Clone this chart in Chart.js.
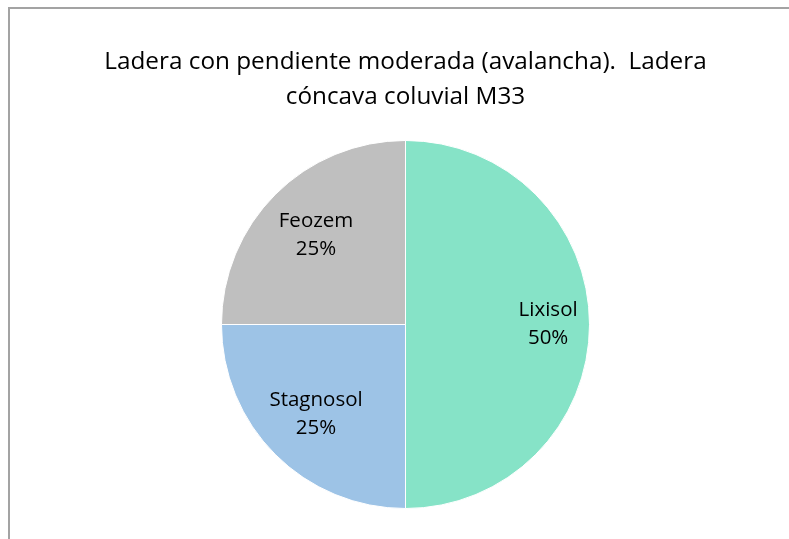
<!DOCTYPE html>
<html>
<head>
<meta charset="utf-8">
<script src="https://cdn.jsdelivr.net/npm/chart.js@4"></script>
<style>
    html, body { margin: 0; padding: 0; background: #fff; }
    #wrap { position: relative; width: 789px; height: 539px; }
    #frame {
        position: absolute; left: 8px; top: 7px; right: 0; bottom: 0;
        border-top: 2px solid #a3a3a3; border-left: 2px solid #a3a3a3;
        pointer-events: none;
    }
</style>
</head>
<body>
<div id="wrap">
    <canvas id="pieChart" width="789" height="539"></canvas>
    <div id="frame"></div>
</div>
<script>
// Chart data
const titleLines = ['Ladera con pendiente moderada (avalancha).  Ladera', 'cóncava coluvial M33'];
const soilNames = ['Lixisol', 'Stagnosol', 'Feozem'];
const soilShares = [50, 25, 25];
const sliceColors = ['#86E3C7', '#9DC3E6', '#BFBFBF'];

const FONT = '"Open Sans", Lato, sans-serif';

// Draw "name / pct%" inside each slice, bigger slices get labels further out
const sliceLabels = {
    id: 'sliceLabels',
    afterDatasetsDraw(chart) {
        const ctx = chart.ctx;
        const meta = chart.getDatasetMeta(0);
        const total = soilShares.reduce((a, b) => a + b, 0);
        ctx.save();
        ctx.font = '20.5px ' + FONT;
        ctx.fillStyle = '#000';
        ctx.textAlign = 'center';
        ctx.textBaseline = 'middle';
        meta.data.forEach((arc, i) => {
            const p = arc.getProps(['x', 'y', 'startAngle', 'endAngle', 'outerRadius'], true);
            const mid = (p.startAngle + p.endAngle) / 2;
            const frac = soilShares[i] / total;
            const r = p.outerRadius * (0.6 + 0.35 * frac);
            const x = p.x + Math.cos(mid) * r;
            const y = p.y + Math.sin(mid) * r;
            ctx.fillText(soilNames[i], x, y - 14);
            ctx.fillText(Math.round(frac * 100) + '%', x, y + 14);
        });
        ctx.restore();
    }
};

const ctx = document.getElementById('pieChart').getContext('2d');
const pieChart = new Chart(ctx, {
    type: 'pie',
    data: {
        labels: soilNames,
        datasets: [{
            data: soilShares,
            backgroundColor: sliceColors,
            borderColor: '#ffffff',
            borderWidth: 1
        }]
    },
    options: {
        responsive: false,
        animation: false,
        layout: { padding: { left: 22, right: 0, top: 0, bottom: 30 } },
        plugins: {
            legend: { display: false },
            tooltip: { enabled: false },
            title: {
                display: true,
                text: titleLines,
                color: '#000',
                font: { family: FONT, size: 24.3, weight: 'normal', lineHeight: 1.44 },
                padding: { top: 44.5, bottom: 25.5 }
            }
        }
    },
    plugins: [sliceLabels]
});
</script>
</body>
</html>
